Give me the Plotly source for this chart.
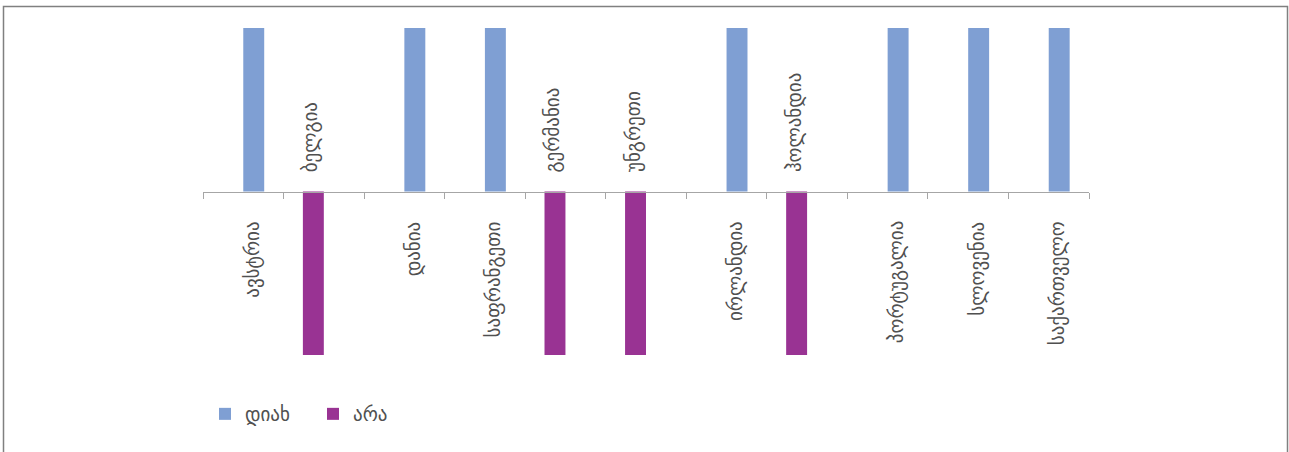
import plotly.graph_objects as go

categories = ["ავსტრია", "ბელგია", "დანია", "საფრანგეთი", "გერმანია", "უნგრეთი",
              "ირლანდია", "ჰოლანდია", "პორტუგალია", "სლოვენია", "საქართველო"]
yes_vals = [1, None, 1, 1, None, None, 1, None, 1, 1, 1]
no_vals = [None, -1, None, None, -1, -1, None, -1, None, None, None]
series_names = ["დიახ", "არა"]
colors = ["#7F9FD3", "#993393"]

W, H = 1289, 452
L, R, T, B = 203, 200, 28, 97
pw, ph = W - L - R, H - T - B

fig = go.Figure()
fig.add_trace(go.Bar(x=categories, y=no_vals, name=series_names[1], marker_color=colors[1],
                     marker_line_width=0, legendrank=2))
fig.add_trace(go.Bar(x=categories, y=yes_vals, name=series_names[0], marker_color=colors[0],
                     marker_line_width=0, legendrank=1))

font = "DejaVu Sans, Noto Sans, sans-serif"
fs = 19
tc = "#505050"
anns = []
for c, yv, nv in zip(categories, yes_vals, no_vals):
    if yv:
        anns.append(dict(x=c, y=0, xref="x", yref="y", text=c, showarrow=False,
                         textangle=-90, yanchor="top", xanchor="center", yshift=-28,
                         xshift=9, font=dict(size=fs, color=tc, family=font)))
    else:
        anns.append(dict(x=c, y=0, xref="x", yref="y", text=c, showarrow=False,
                         textangle=-90, yanchor="bottom", xanchor="center", yshift=17,
                         xshift=-13, font=dict(size=fs, color=tc, family=font)))

fig.update_layout(
    width=W, height=H,
    margin=dict(l=L, r=R, t=T, b=B),
    paper_bgcolor="white", plot_bgcolor="white",
    barmode="group", bargap=0.48, bargroupgap=0,
    showlegend=True,
    legend=dict(orientation="h", x=(205 - L) / pw, y=(H - B - 414) / ph,
                xanchor="left", yanchor="middle",
                font=dict(size=fs, color=tc, family=font),
                itemwidth=30, tracegroupgap=0,
                entrywidth=63, entrywidthmode="pixels"),
    xaxis=dict(showticklabels=False, showline=True, linecolor="#A6A6A6", linewidth=1,
               ticks="outside", tickson="boundaries", ticklen=6, tickcolor="#A6A6A6",
               anchor="free", position=0.5, showgrid=False, zeroline=False),
    yaxis=dict(range=[-1, 1], visible=False, showgrid=False, zeroline=False),
    annotations=anns,
    shapes=[dict(type="rect", xref="paper", yref="paper",
                 x0=(3.5 - L) / pw, x1=(1287.5 - L) / pw,
                 y0=(H - B - 470) / ph, y1=(H - B - 6.5) / ph,
                 line=dict(color="#808080", width=1.5), fillcolor="rgba(0,0,0,0)",
                 layer="below")],
)

fig.write_html("out.html", config={"displayModeBar": False},
               post_script="document.body.style.margin='0';")
